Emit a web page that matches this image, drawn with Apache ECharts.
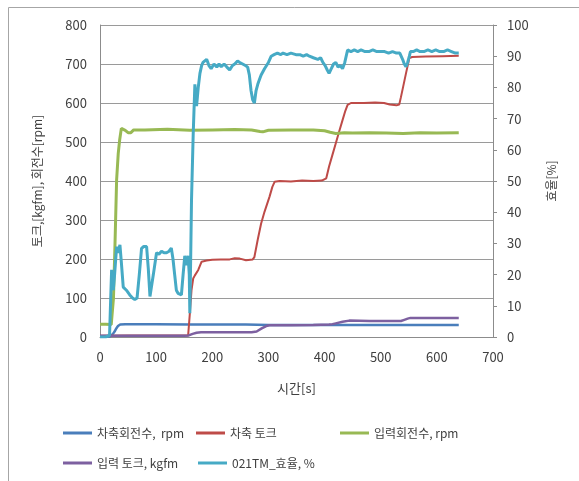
<!DOCTYPE html>
<html>
<head>
<meta charset="utf-8">
<script src="https://cdn.jsdelivr.net/npm/echarts@6/dist/echarts.min.js"></script>
<style>
  html, body { margin: 0; padding: 0; background: #fff; }
  #chart { width: 579px; height: 481px; }
</style>
</head>
<body>
<div id="chart"></div>
<script>
// Series names (legend order)
const seriesNames = ['차축회전수,  rpm', '차축 토크', '입력회전수, rpm', '입력 토크, kgfm', '021TM_효율, %'];

// [time s, value] — left axis (rpm / kgfm)
const axleSpeed = [[0,1],[10,1],[18,1],[20,2],[23,8],[26,14],[29,22],[32,28],[36,32],[45,33],[100,33],[160,32],[200,32],[260,32],[300,31],[360,31],[420,31],[480,31],[540,31],[600,31],[639,31]];

const axleTorque = [[0,3],[50,4],[100,4],[150,4],[157,4],[160,60],[163,120],[166,150],[169,158],[175,172],[181,193],[190,196],[200,198],[215,199],[231,199],[240,202],[249,201],[260,197],[272,199],[275,205],[281,250],[287,291],[293,321],[302,360],[307,385],[311,398],[320,400],[340,399],[360,401],[380,400],[395,401],[403,407],[408,437],[414,467],[420,497],[426,527],[432,556],[437,580],[441,595],[447,600],[470,600],[490,601],[506,600],[516,596],[528,594],[533,596],[536,615],[540,642],[545,676],[551,715],[556,718],[580,719],[610,720],[639,721]];

const inputSpeed = [[0,33],[10,33],[20,32],[22,34],[24,100],[26.6,232],[29.6,403],[32.5,471],[35,505],[38,535],[41,538],[45,530],[50,524],[55,524],[60,531],[80,531],[120,533],[160,530],[200,531],[240,532],[270,531],[285,527],[290,526],[300,530],[340,531],[380,531],[400,529],[410,525],[420,522],[435,524],[450,523],[480,524],[510,523],[540,522],[570,524],[600,523],[639,524]];

const inputTorque = [[0,3],[50,3],[100,3],[150,3],[158,4],[165,8],[172,11],[180,12],[220,12],[260,12],[270,12],[279,14],[288,22],[296,28],[302,30],[340,30],[380,31],[408,32],[414,33],[420,35],[432,39],[444,42],[480,41],[520,41],[536,41],[542,44],[548,47],[553,49],[580,49],[610,49],[639,49]];

// [time s, efficiency %] — right axis
const efficiency = [[0,0],[10,0],[17,0.5],[19,12],[20.7,21.5],[22,17],[23.7,15],[26,20],[29.6,29],[32,27],[35.5,29.5],[38,24],[41.4,16],[47,15],[53,13.5],[58,12.5],[62,12],[66,12.5],[70,20],[74,28.4],[78,29],[83,29],[86,22],[89,13],[91,12.5],[95,20],[100.7,27],[105,26.5],[109.6,27.5],[114,27],[118.4,27],[123,27.5],[127,28.5],[130,25],[133,20],[136,15],[139,14],[145,13.5],[148,20],[151,26],[154,23],[157,26],[159,20],[160,7.6],[161.5,25],[163,44],[166,65],[169,81],[172,74],[175,80],[178,84.5],[181,87],[183.5,88],[187,87.5],[190,89],[194,87],[198,86],[203,87.5],[208,86.5],[212,87.5],[216,86.6],[221,87.5],[226,86.5],[231,85.6],[236,87],[240,87.5],[245,88.5],[249,88],[254,87.5],[259,87],[263,86.5],[266,84],[269,79],[272,76],[275,75],[278,79],[281,81],[284,82.5],[287,84],[290,84.5],[293,86],[296,86],[300,88],[305,90],[310,90.5],[316,91],[322,90.5],[326,91],[333,90.5],[340,91],[349,90.5],[356,90.5],[362,90],[368,90.5],[373,90],[380,89.5],[388,89],[393,89.5],[397,88],[401,87],[405,85.5],[408,84.5],[412,86],[416,87.5],[420,88],[424,86.5],[428,87],[432,86],[436,88],[441,92],[447,91.5],[453,92],[459,91.5],[465,92],[472,91.5],[479,91.5],[486,92],[493,91.5],[500,91.5],[507,91.5],[514,91],[521,91.5],[528,91],[534,91],[539,89],[542,87.5],[545,86.6],[548,88],[551,90],[553,91.5],[558,91.5],[564,92],[570,91.5],[577,91.5],[584,92],[591,91.5],[598,92],[605,91.5],[612,91.5],[619,92],[626,91.5],[633,91],[639,91]];

// Axis ranges and tick steps
const timeRange = [0, 700, 100];
const leftRange = [0, 800, 100];
const rightRange = [0, 100, 10];

const colors = ['#4A7EBB', '#BE4B48', '#98B954', '#7D60A0', '#46AAC5'];
const font = '"Noto Sans CJK KR", "Noto Sans", sans-serif';
const textColor = '#404040';
const lineGray = '#8c8c8c';

const chart = echarts.init(document.getElementById('chart'), null, { renderer: 'canvas' });

function legendAt(name, left, top) {
  return {
    data: [{ name: name, icon: 'rect' }],
    left: left,
    top: top,
    padding: 0,
    itemWidth: 29,
    itemHeight: 3,
    selectedMode: false,
    textStyle: { fontFamily: font, fontSize: 12, color: textColor }
  };
}

const seriesData = [axleSpeed, axleTorque, inputSpeed, inputTorque, efficiency];
const widths = [2.5, 2, 3, 2.5, 3];

chart.setOption({
  animation: false,
  backgroundColor: '#ffffff',
  color: colors,
  graphic: [{
    type: 'rect',
    shape: { x: 8.5, y: 7.5, width: 620, height: 520 },
    style: { fill: 'none', stroke: '#a6a6a6', lineWidth: 1 },
    silent: true
  }],
  legend: [
    legendAt(seriesNames[0], 63, 427),
    legendAt(seriesNames[1], 196, 427),
    legendAt(seriesNames[2], 340, 427),
    legendAt(seriesNames[3], 63, 457),
    legendAt(seriesNames[4], 198, 457)
  ],
  grid: { left: 100, right: 86, top: 25, bottom: 144, containLabel: false },
  xAxis: {
    type: 'value',
    min: timeRange[0], max: timeRange[1], interval: timeRange[2],
    name: '시간[s]',
    nameLocation: 'middle',
    nameGap: 45,
    nameTextStyle: { fontFamily: font, fontSize: 13, color: textColor },
    axisLine: { show: true, lineStyle: { color: lineGray, width: 1 } },
    axisTick: { show: false },
    splitLine: { show: false },
    axisLabel: { fontFamily: font, fontSize: 13, color: textColor, margin: 14 }
  },
  yAxis: [{
    type: 'value',
    position: 'left',
    min: leftRange[0], max: leftRange[1], interval: leftRange[2],
    name: '토크,[kgfm], 회전수[rpm]',
    nameLocation: 'middle',
    nameRotate: 90,
    nameGap: 57,
    nameTextStyle: { fontFamily: font, fontSize: 12, color: textColor },
    axisLine: { show: true, lineStyle: { color: lineGray, width: 1 } },
    axisTick: { show: false },
    splitLine: { show: true, lineStyle: { color: '#9a9a9a', width: 1 } },
    axisLabel: { fontFamily: font, fontSize: 13, color: textColor, margin: 13 }
  }, {
    type: 'value',
    position: 'right',
    min: rightRange[0], max: rightRange[1], interval: rightRange[2],
    name: '효율[%]',
    nameLocation: 'middle',
    nameRotate: 90,
    nameGap: 52,
    nameTextStyle: { fontFamily: font, fontSize: 12, color: textColor },
    axisLine: { show: true, lineStyle: { color: lineGray, width: 1 } },
    axisTick: { show: true, length: 4, lineStyle: { color: lineGray } },
    splitLine: { show: false },
    axisLabel: { fontFamily: font, fontSize: 13, color: textColor, margin: 14 }
  }],
  series: seriesNames.map((name, i) => ({
    name: name,
    type: 'line',
    yAxisIndex: i === 4 ? 1 : 0,
    data: seriesData[i],
    symbol: 'none',
    showSymbol: false,
    smooth: false,
    z: i === 4 ? 5 : 2 + i * 0.1,
    lineStyle: { color: colors[i], width: widths[i] },
    itemStyle: { color: colors[i] }
  }))
});
</script>
</body>
</html>
